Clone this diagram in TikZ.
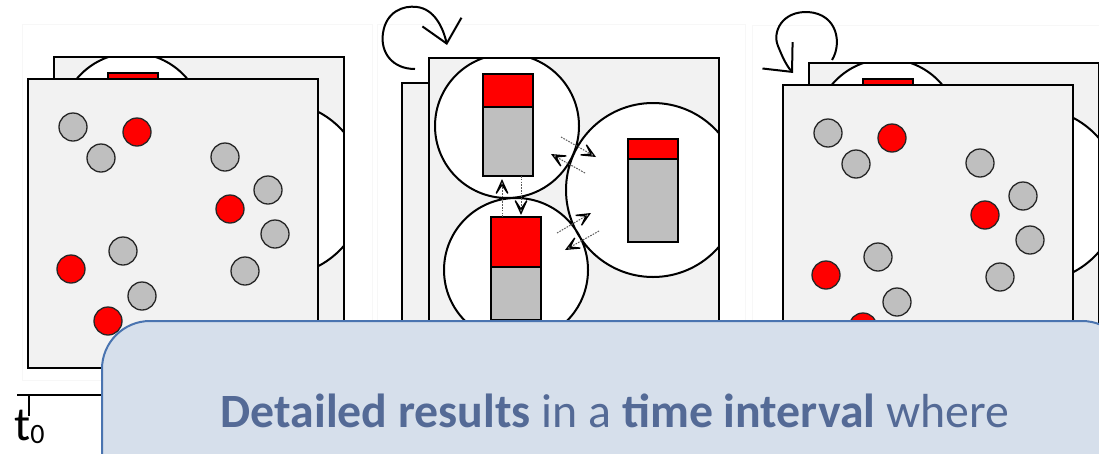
\documentclass[tikz,border=0pt]{standalone}
\usepackage{fontspec}
\setmainfont{Carlito}
\usetikzlibrary{arrows.meta}
\definecolor{framegray}{HTML}{F2F2F2}
\definecolor{pgray}{HTML}{BFBFBF}
\definecolor{pred}{HTML}{FF0000}
\definecolor{callfill}{HTML}{D6DFEB}
\definecolor{callborder}{HTML}{4A74B0}
\definecolor{txtblue}{HTML}{546A96}
\tikzset{
  frame/.style={draw=black, line width=2pt, fill=framegray},
  circ/.style={draw=black, line width=2pt},
  bar/.style={draw=black, line width=2pt},
  ptc/.style={draw=black!85, line width=1.3pt},
  faint/.style={draw=black!3, line width=0.6pt, fill=white},
  dotarrow/.style={draw=black!65, line width=1pt, dash pattern=on 1.6pt off 1.2pt,
     -{Stealth[open, length=21pt, width=19pt, inset=14pt, line width=1.3pt, color=black, sep=0pt]}},
  looparrow/.style={draw=black, line width=2pt, -{Straight Barb[length=22pt, width=40pt, line width=2pt]}},
  callout/.style={draw=callborder, fill=callfill, line width=2pt, rounded corners=48pt},
}
\newcommand{\partframe}[2]{%
\begin{scope}[shift={(#1,#2)}]
  \draw[frame] (0,0) rectangle (290,289);
  \foreach \px/\py in {45/48,73/79,197/78,240/111,247/155,217/192,95/172,114/217}
    \draw[ptc, fill=pgray] (\px,\py) circle (14);
  \foreach \px/\py in {109/53,202/130,43/190,80/242}
    \draw[ptc, fill=pred] (\px,\py) circle (14);
\end{scope}}
\newcommand{\circframe}[2]{%
\begin{scope}[shift={(#1,#2)}]
  \draw[frame] (0,0) rectangle (290,290);
  \begin{scope}
    \clip (0,0) rectangle (290,290);
    \fill[white] (78,68) circle (72) (87,212) circle (72) (224,132) circle (87);
    \draw[circ] (78,68) circle (72) (87,212) circle (72) (224,132) circle (87);
    \draw[bar, fill=pred] (54,16) rectangle (104,49);
    \draw[bar, fill=pgray] (54,49) rectangle (104,118);
    \draw[bar, fill=pred] (62,159) rectangle (112,209);
    \draw[bar, fill=pgray] (62,209) rectangle (112,262);
    \draw[bar, fill=pred] (199,81) rectangle (249,101);
    \draw[bar, fill=pgray] (199,101) rectangle (249,184);
  \end{scope}
  \draw[draw=black, line width=2pt] (0,0) rectangle (290,290);
\end{scope}}
\begin{document}
\begin{tikzpicture}[x=1pt, y=-1pt]
\clip (0,0) rectangle (1099,453);
\fill[white] (0,0) rectangle (1099,453);
% faint slide backgrounds
\draw[faint] (22,24) rectangle (372,380);
\draw[faint] (377,24) rectangle (745,420);
\draw[faint] (752,25) rectangle (1130,420);
% panel 1
\circframe{54}{57}
\partframe{28}{79}
% panel 2
\partframe{402}{83}
\circframe{429}{58}
% exchange arrows in panel 2
\coordinate (u1) at (502,217); \coordinate (u2) at (502,179);
\coordinate (d1) at (521,176); \coordinate (d2) at (521,215);
\coordinate (a1) at (561,137); \coordinate (a2) at (596,157);
\coordinate (b1) at (585,173); \coordinate (b2) at (551,154);
\coordinate (c1) at (557,233); \coordinate (c2) at (591,213);
\coordinate (e1) at (599,231); \coordinate (e2) at (565,250);
\draw[dotarrow] (u1) -- (u2);
\draw[dotarrow] (d1) -- (d2);
\draw[dotarrow] (a1) -- (a2);
\draw[dotarrow] (b1) -- (b2);
\draw[dotarrow] (c1) -- (c2);
\draw[dotarrow] (e1) -- (e2);
% loop arrow panel 2
\coordinate (m0) at (415,69);
\coordinate (m3) at (447,45);
\draw[looparrow] (m0) .. controls (392,69) and (380,52) .. (383,33)
   .. controls (386,12) and (403,5) .. (417,7)
   .. controls (434,9) and (443,27) .. (m3);
% panel 3
\circframe{809}{63}
\partframe{783}{85}
% loop arrow panel 3
\coordinate (r0) at (832,60);
\coordinate (r3) at (793,73);
\draw[looparrow] (r0) .. controls (842,44) and (838,14) .. (808,12)
   .. controls (782,11) and (772,32) .. (778,46)
   .. controls (782,56) and (786,65) .. (r3);
% timeline
\coordinate (tl0) at (17,395);
\coordinate (tl1) at (200,395);
\coordinate (tk0) at (29,395);
\coordinate (tk1) at (29,416);
\draw[line width=2pt] (tl0) -- (tl1);
\draw[line width=2pt] (tk0) -- (tk1);
\node[anchor=base west, inner sep=0pt, font=\fontsize{48}{56}\selectfont] (t0) at (14,440) {t\raisebox{-0.08em}{\fontsize{28}{32}\selectfont 0}};
% callout
\draw[callout] (102,321) rectangle (1130,560);
\node[anchor=base, inner sep=0pt, text=txtblue, font=\fontsize{47.8}{57}\selectfont] (msg) at (615,427)
  {\textbf{Detailed results} in a \textbf{time interval} where};
\end{tikzpicture}
\end{document}
